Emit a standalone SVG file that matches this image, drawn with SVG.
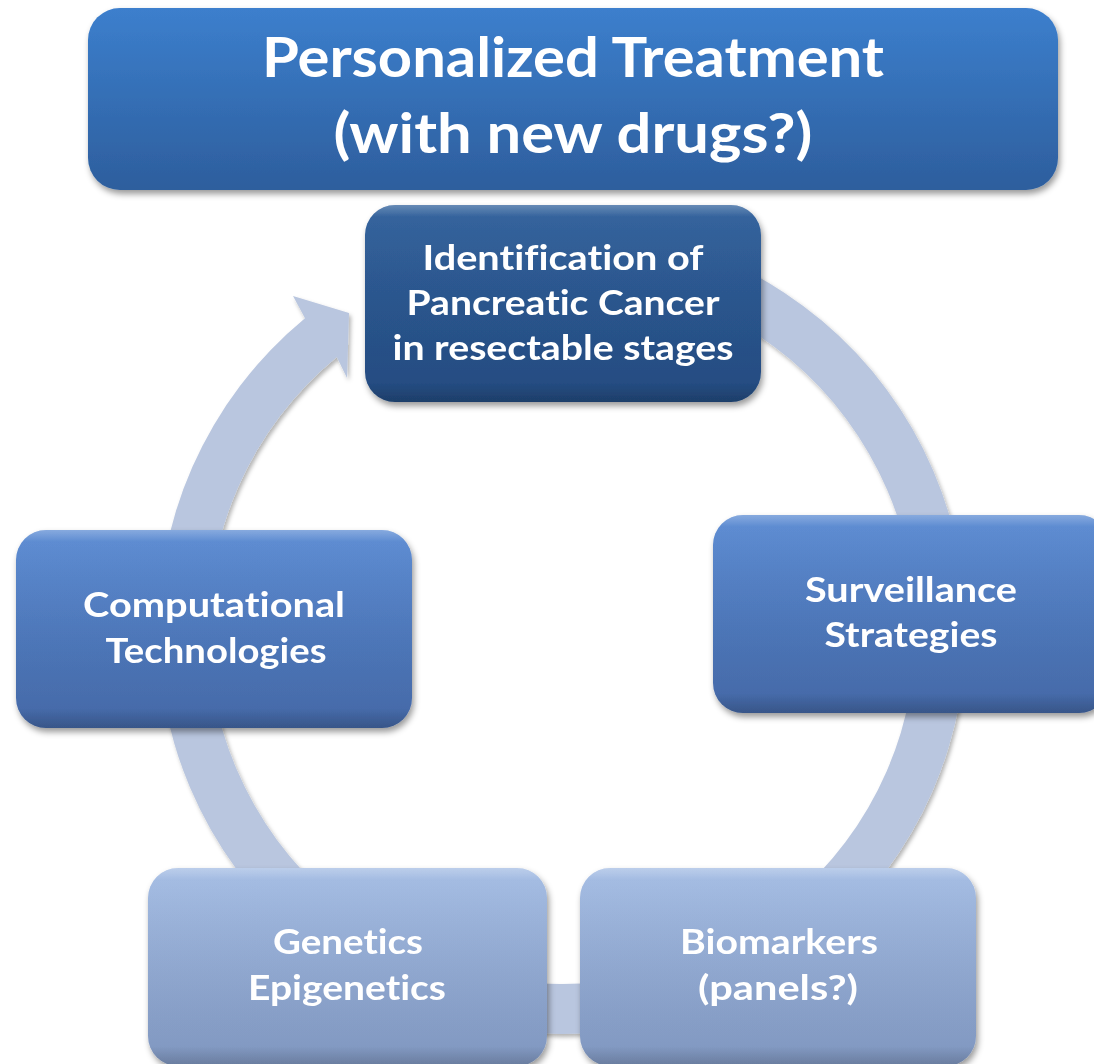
<svg xmlns="http://www.w3.org/2000/svg" width="1094" height="1064" viewBox="0 0 1094 1064">
<defs>
<linearGradient id="gTitle" x1="0" y1="0" x2="0" y2="1"><stop offset="0" stop-color="#3c7fcd"/><stop offset="1" stop-color="#2d5e9d"/></linearGradient>
<linearGradient id="gDark" x1="0" y1="0" x2="0" y2="1"><stop offset="0" stop-color="#2d5e9a"/><stop offset="1" stop-color="#244b80"/></linearGradient>
<linearGradient id="gMid" x1="0" y1="0" x2="0" y2="1"><stop offset="0" stop-color="#5889d2"/><stop offset="1" stop-color="#4468a6"/></linearGradient>
<linearGradient id="gLight" x1="0" y1="0" x2="0" y2="1"><stop offset="0" stop-color="#a2bbe3"/><stop offset="1" stop-color="#7f96bf"/></linearGradient>
<linearGradient id="gGloss" x1="0" y1="0" x2="0" y2="1"><stop offset="0" stop-color="#fff" stop-opacity="0.28"/><stop offset="0.06" stop-color="#fff" stop-opacity="0.04"/><stop offset="0.9" stop-color="#000" stop-opacity="0"/><stop offset="1" stop-color="#000" stop-opacity="0.18"/></linearGradient>
<filter id="sh" x="-10%" y="-10%" width="125%" height="130%"><feDropShadow dx="2" dy="4" stdDeviation="3" flood-color="#000" flood-opacity="0.4"/></filter>
<filter id="shRing" x="-10%" y="-10%" width="125%" height="125%"><feDropShadow dx="2" dy="3" stdDeviation="2" flood-color="#000" flood-opacity="0.3"/></filter>
</defs>
<style>
text{font-family:Lato,"Open Sans","Liberation Sans",sans-serif;font-weight:bold;fill:#fff;text-anchor:middle;font-variant-ligatures:none;font-feature-settings:"liga" 0,"dlig" 0}
.t{font-size:55px}
.n{font-size:35px}
.gl{fill:url(#gGloss)}
</style>
<g id="connectors">
<path filter="url(#shRing)" fill="#b9c6df" d="M562,226 A404,404 0 1 1 305,318.3 L293,296 L349,313 L347,378 L336.8,356.9 A354,354 0 1 0 562,276 Z"/>
</g>
<g id="title" filter="url(#sh)">
<rect x="88" y="8" width="970" height="182" rx="32" fill="url(#gTitle)"/>
<text class="t" x="573" y="77" textLength="622" lengthAdjust="spacingAndGlyphs">Personalized Treatment</text>
<text class="t" x="573" y="153" textLength="479" lengthAdjust="spacingAndGlyphs">(with new drugs?)</text>
</g>
<g id="node-identification" filter="url(#sh)">
<rect x="365" y="205" width="396" height="197" rx="30" fill="url(#gDark)"/>
<rect x="365" y="205" width="396" height="197" rx="30" class="gl"/>
<text class="n" x="563" y="270" textLength="281" lengthAdjust="spacingAndGlyphs">Identification of</text>
<text class="n" x="563" y="315" textLength="313" lengthAdjust="spacingAndGlyphs">Pancreatic Cancer</text>
<text class="n" x="563" y="360" textLength="341" lengthAdjust="spacingAndGlyphs">in resectable stages</text>
</g>
<g id="node-surveillance" filter="url(#sh)">
<rect x="713" y="515" width="396" height="198" rx="30" fill="url(#gMid)"/>
<rect x="713" y="515" width="396" height="198" rx="30" class="gl"/>
<text class="n" x="911" y="602" textLength="212" lengthAdjust="spacingAndGlyphs">Surveillance</text>
<text class="n" x="911" y="647" textLength="173" lengthAdjust="spacingAndGlyphs">Strategies</text>
</g>
<g id="node-computational" filter="url(#sh)">
<rect x="16" y="530" width="396" height="198" rx="30" fill="url(#gMid)"/>
<rect x="16" y="530" width="396" height="198" rx="30" class="gl"/>
<text class="n" x="214" y="617" textLength="262" lengthAdjust="spacingAndGlyphs">Computational</text>
<text class="n" x="216" y="663" textLength="221" lengthAdjust="spacingAndGlyphs">Technologies</text>
</g>
<g id="node-genetics" filter="url(#sh)">
<rect x="148" y="868" width="399" height="198" rx="30" fill="url(#gLight)"/>
<rect x="148" y="868" width="399" height="198" rx="30" class="gl"/>
<text class="n" x="348" y="954" textLength="150" lengthAdjust="spacingAndGlyphs">Genetics</text>
<text class="n" x="347" y="1000" textLength="198" lengthAdjust="spacingAndGlyphs">Epigenetics</text>
</g>
<g id="node-biomarkers" filter="url(#sh)">
<rect x="580" y="868" width="396" height="198" rx="30" fill="url(#gLight)"/>
<rect x="580" y="868" width="396" height="198" rx="30" class="gl"/>
<text class="n" x="779" y="954" textLength="198" lengthAdjust="spacingAndGlyphs">Biomarkers</text>
<text class="n" x="778" y="1000" textLength="160" lengthAdjust="spacingAndGlyphs">(panels?)</text>
</g>
</svg>
